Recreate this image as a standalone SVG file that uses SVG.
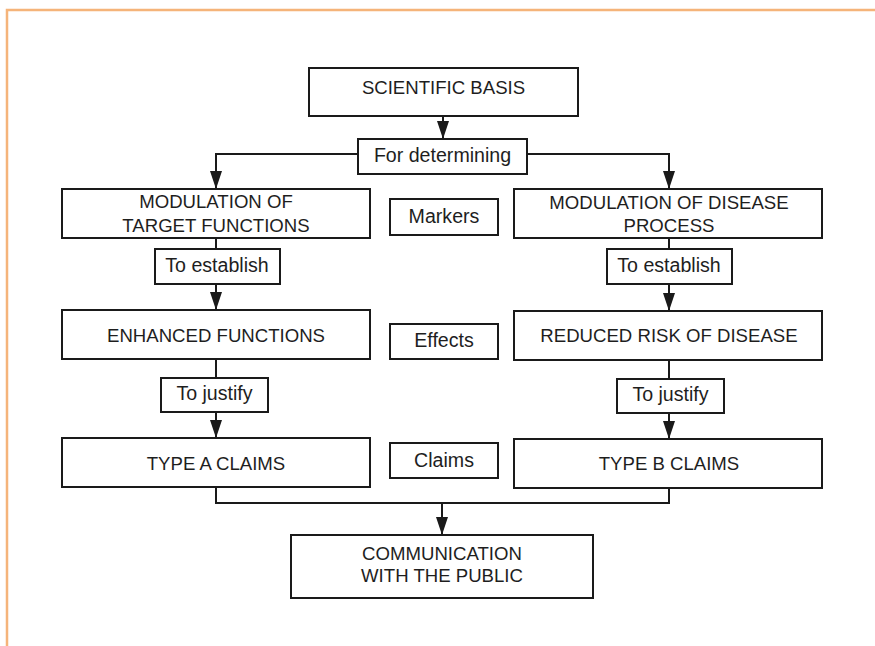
<svg xmlns="http://www.w3.org/2000/svg" width="875" height="646" viewBox="0 0 875 646">
<style>
.box{fill:#fff;stroke:#1a1a1a;stroke-width:2}
.t{font-family:"Liberation Sans",Arial,Helvetica,sans-serif;fill:#1e1e1e;text-anchor:middle}
.cap{font-size:18.6px}
.lab{font-size:19.6px}
.c{fill:none;stroke:#1a1a1a;stroke-width:2}
</style>
<defs>
<marker id="ah" viewBox="0 0 18 12" refX="18" refY="6" markerWidth="18" markerHeight="12" orient="auto" markerUnits="userSpaceOnUse">
<path d="M0,0 L18,6 L0,12 z" fill="#1a1a1a"/>
</marker>
</defs>
<rect x="0" y="0" width="875" height="646" fill="#fff"/>
<path d="M7,646 V10 H875" fill="none" stroke="#f5b47a" stroke-width="2.5"/>

<g id="connectors">
<path class="c" d="M443,116 V139" marker-end="url(#ah)"/>
<path class="c" d="M358,154 H216 V189" marker-end="url(#ah)"/>
<path class="c" d="M527,154 H669 V189" marker-end="url(#ah)"/>
<path class="c" d="M216,238 V249"/>
<path class="c" d="M216,284 V310" marker-end="url(#ah)"/>
<path class="c" d="M216,359 V378"/>
<path class="c" d="M216,412 V438" marker-end="url(#ah)"/>
<path class="c" d="M669,238 V249"/>
<path class="c" d="M669,284 V311" marker-end="url(#ah)"/>
<path class="c" d="M669,360 V379"/>
<path class="c" d="M669,413 V439" marker-end="url(#ah)"/>
<path class="c" d="M216,487 V503 H669 V488"/>
<path class="c" d="M442,503 V535" marker-end="url(#ah)"/>
</g>

<g id="scientific-basis">
<rect class="box" x="309" y="68" width="269" height="48"/>
<text class="t cap" x="443.5" y="94">SCIENTIFIC BASIS</text>
</g>
<g id="for-determining">
<rect class="box" x="358" y="139" width="169" height="35"/>
<text class="t lab" x="442.5" y="162">For determining</text>
</g>
<g id="mod-target">
<rect class="box" x="62" y="189" width="308" height="49"/>
<text class="t cap" x="216" y="208">MODULATION OF</text>
<text class="t cap" x="216" y="232">TARGET FUNCTIONS</text>
</g>
<g id="markers">
<rect class="box" x="390" y="199" width="108" height="36"/>
<text class="t lab" x="444" y="223">Markers</text>
</g>
<g id="mod-disease">
<rect class="box" x="514" y="189" width="308" height="49"/>
<text class="t cap" x="669" y="209">MODULATION OF DISEASE</text>
<text class="t cap" x="669" y="232">PROCESS</text>
</g>
<g id="to-establish-left">
<rect class="box" x="155" y="249" width="125" height="35"/>
<text class="t lab" x="217" y="272">To establish</text>
</g>
<g id="to-establish-right">
<rect class="box" x="607" y="249" width="125" height="35"/>
<text class="t lab" x="669" y="272">To establish</text>
</g>
<g id="enhanced">
<rect class="box" x="62" y="310" width="308" height="49"/>
<text class="t cap" x="216" y="342">ENHANCED FUNCTIONS</text>
</g>
<g id="effects">
<rect class="box" x="390" y="324" width="108" height="35"/>
<text class="t lab" x="444" y="347">Effects</text>
</g>
<g id="reduced-risk">
<rect class="box" x="514" y="311" width="308" height="49"/>
<text class="t cap" x="669" y="342">REDUCED RISK OF DISEASE</text>
</g>
<g id="to-justify-left">
<rect class="box" x="161" y="378" width="107" height="34"/>
<text class="t lab" x="214.5" y="400">To justify</text>
</g>
<g id="to-justify-right">
<rect class="box" x="617" y="379" width="107" height="34"/>
<text class="t lab" x="670.5" y="401">To justify</text>
</g>
<g id="type-a">
<rect class="box" x="62" y="438" width="308" height="49"/>
<text class="t cap" x="216" y="470">TYPE A CLAIMS</text>
</g>
<g id="claims">
<rect class="box" x="390" y="443" width="108" height="35"/>
<text class="t lab" x="444" y="467">Claims</text>
</g>
<g id="type-b">
<rect class="box" x="514" y="439" width="308" height="49"/>
<text class="t cap" x="669" y="470">TYPE B CLAIMS</text>
</g>
<g id="communication">
<rect class="box" x="291" y="535" width="302" height="63"/>
<text class="t cap" x="442" y="560">COMMUNICATION</text>
<text class="t cap" x="442" y="582">WITH THE PUBLIC</text>
</g>
</svg>
